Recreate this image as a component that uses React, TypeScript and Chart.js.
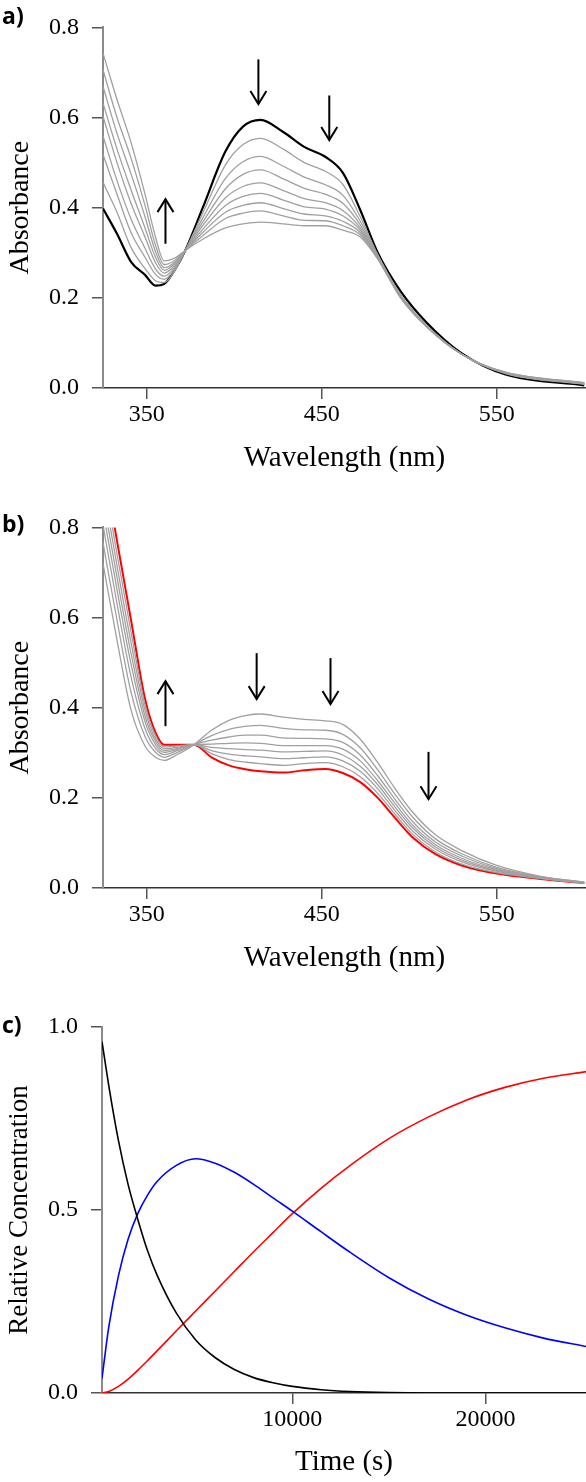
import React, { useEffect, useRef } from 'react';
import { Chart, registerables } from 'chart.js';

Chart.register(...registerables);

const SERIF = '"Liberation Serif", "Times New Roman", serif';

// ---------- Panel a ----------
const A_WAVELENGTH = [325, 333, 341, 349, 355, 360, 366, 372, 382, 395, 405, 415, 428, 440, 452, 462, 472, 482, 495, 510, 530, 555, 600];
const A_INITIAL = [0.398, 0.342, 0.28, 0.251, 0.227, 0.231, 0.262, 0.305, 0.40, 0.525, 0.58, 0.595, 0.568, 0.535, 0.513, 0.478, 0.395, 0.30, 0.215, 0.145, 0.077, 0.03, 0.006];
const A_SCAN_1 = [0.456, 0.39, 0.312, 0.265, 0.238, 0.234, 0.260, 0.305, 0.388, 0.495, 0.54, 0.554, 0.53, 0.50, 0.481, 0.452, 0.38, 0.296, 0.207, 0.139, 0.075, 0.032, 0.008];
const A_SCAN_2 = [0.518, 0.43, 0.345, 0.29, 0.252, 0.241, 0.264, 0.305, 0.377, 0.465, 0.502, 0.514, 0.492, 0.468, 0.451, 0.428, 0.37, 0.294, 0.206, 0.138, 0.075, 0.033, 0.009];
const A_SCAN_3 = [0.559, 0.46, 0.375, 0.31, 0.264, 0.248, 0.268, 0.305, 0.368, 0.442, 0.474, 0.484, 0.464, 0.443, 0.43, 0.41, 0.362, 0.292, 0.205, 0.138, 0.075, 0.033, 0.009];
const A_SCAN_4 = [0.603, 0.50, 0.41, 0.335, 0.278, 0.255, 0.272, 0.305, 0.36, 0.422, 0.447, 0.455, 0.438, 0.42, 0.411, 0.394, 0.355, 0.29, 0.204, 0.137, 0.075, 0.034, 0.01];
const A_SCAN_5 = [0.632, 0.53, 0.44, 0.355, 0.29, 0.261, 0.276, 0.305, 0.352, 0.405, 0.425, 0.432, 0.417, 0.402, 0.397, 0.382, 0.35, 0.289, 0.203, 0.137, 0.075, 0.034, 0.01];
const A_SCAN_6 = [0.669, 0.565, 0.475, 0.38, 0.303, 0.267, 0.279, 0.305, 0.345, 0.39, 0.405, 0.411, 0.398, 0.386, 0.382, 0.37, 0.345, 0.288, 0.202, 0.136, 0.075, 0.034, 0.011];
const A_SCAN_7 = [0.706, 0.60, 0.51, 0.405, 0.317, 0.274, 0.283, 0.305, 0.338, 0.376, 0.388, 0.393, 0.382, 0.372, 0.371, 0.36, 0.34, 0.287, 0.201, 0.136, 0.075, 0.035, 0.011];
const A_SCAN_8 = [0.743, 0.64, 0.545, 0.43, 0.335, 0.282, 0.288, 0.305, 0.33, 0.355, 0.364, 0.368, 0.364, 0.36, 0.36, 0.35, 0.335, 0.286, 0.2, 0.135, 0.075, 0.035, 0.012];
const A_ARROW_X = [360.7, 413.8, 454.3];
const A_ARROW_FROM = [0.32, 0.729, 0.649];
const A_ARROW_TO = [0.419, 0.63, 0.55];

// ---------- Panel b ----------
const B_WAVELENGTH = [325, 333, 341, 349, 355, 360, 367, 377, 387, 397, 407, 415, 428, 440, 452, 462, 472, 482, 492, 502, 515, 530, 550, 575, 600];
const B_SCAN_1 = [0.72, 0.55, 0.395, 0.315, 0.29, 0.283, 0.295, 0.318, 0.35, 0.372, 0.383, 0.386, 0.379, 0.374, 0.371, 0.363, 0.33, 0.278, 0.22, 0.168, 0.118, 0.083, 0.05, 0.026, 0.013];
const B_SCAN_2 = [0.766, 0.594, 0.435, 0.336, 0.301, 0.29, 0.3, 0.318, 0.338, 0.352, 0.359, 0.361, 0.354, 0.351, 0.35, 0.341, 0.311, 0.262, 0.207, 0.157, 0.109, 0.076, 0.046, 0.025, 0.013];
const B_SCAN_3 = [0.805, 0.631, 0.469, 0.354, 0.31, 0.296, 0.304, 0.318, 0.328, 0.335, 0.339, 0.339, 0.333, 0.332, 0.331, 0.323, 0.295, 0.249, 0.196, 0.147, 0.102, 0.071, 0.043, 0.024, 0.012];
const B_SCAN_4 = [0.837, 0.662, 0.497, 0.369, 0.318, 0.301, 0.307, 0.318, 0.319, 0.321, 0.322, 0.321, 0.316, 0.316, 0.316, 0.308, 0.282, 0.238, 0.187, 0.139, 0.096, 0.066, 0.041, 0.023, 0.012];
const B_SCAN_5 = [0.865, 0.689, 0.521, 0.381, 0.325, 0.305, 0.309, 0.318, 0.312, 0.309, 0.307, 0.306, 0.302, 0.303, 0.304, 0.295, 0.27, 0.229, 0.179, 0.133, 0.091, 0.062, 0.039, 0.022, 0.012];
const B_SCAN_6 = [0.893, 0.715, 0.545, 0.394, 0.331, 0.309, 0.312, 0.318, 0.305, 0.297, 0.293, 0.291, 0.287, 0.289, 0.291, 0.282, 0.259, 0.22, 0.171, 0.126, 0.086, 0.058, 0.037, 0.022, 0.011];
const B_SCAN_7 = [0.92, 0.741, 0.569, 0.406, 0.338, 0.313, 0.315, 0.318, 0.298, 0.285, 0.279, 0.276, 0.272, 0.276, 0.278, 0.269, 0.247, 0.21, 0.163, 0.119, 0.08, 0.053, 0.034, 0.021, 0.011];
const B_FINAL = [0.95, 0.77, 0.595, 0.42, 0.345, 0.318, 0.318, 0.318, 0.29, 0.272, 0.263, 0.259, 0.256, 0.261, 0.264, 0.255, 0.235, 0.2, 0.155, 0.112, 0.075, 0.05, 0.032, 0.02, 0.011];
const B_ARROW_X = [360.7, 412.8, 455, 511];
const B_ARROW_FROM = [0.359, 0.521, 0.51, 0.302];
const B_ARROW_TO = [0.459, 0.419, 0.408, 0.197];

// ---------- shared spectra axes ----------
const W_TICKS = [350, 450, 550];
const W_LABELS = ['350', '450', '550'];
const ABS_TICKS = [0, 0.2, 0.4, 0.6, 0.8];
const ABS_LABELS = ['0.0', '0.2', '0.4', '0.6', '0.8'];

// ---------- Panel c ----------
const C_TIME = [150, 500, 1000, 1500, 2000, 2500, 3000, 4000, 5000, 6000, 7000, 8000, 9000, 10000, 11500, 13000, 15000, 17000, 19000, 21000, 23000, 25200];
const C_REACTANT = [0.96, 0.84, 0.69, 0.57, 0.475, 0.39, 0.322, 0.218, 0.145, 0.097, 0.064, 0.042, 0.028, 0.018, 0.009, 0.004, 0.001, 0, 0, 0, 0, 0];
const C_INTERMEDIATE = [0.04, 0.18, 0.32, 0.42, 0.49, 0.54, 0.578, 0.622, 0.64, 0.628, 0.603, 0.57, 0.533, 0.497, 0.44, 0.384, 0.315, 0.258, 0.213, 0.178, 0.15, 0.127];
const C_PRODUCT = [0, 0.004, 0.018, 0.038, 0.062, 0.088, 0.115, 0.17, 0.224, 0.278, 0.332, 0.386, 0.438, 0.49, 0.56, 0.622, 0.695, 0.753, 0.8, 0.835, 0.86, 0.878];
const T_TICKS = [10000, 20000];
const T_LABELS = ['10000', '20000'];
const CONC_TICKS = [0, 0.5, 1.0];
const CONC_LABELS = ['0.0', '0.5', '1.0'];

const GRAY = '#a0a0a0';

const arrowPlugin = {
  id: 'arrows',
  afterDatasetsDraw(chart: any, _args: any, opts: any) {
    if (!opts || !opts.x) return;
    const { ctx } = chart;
    const xs = chart.scales.x;
    const ys = chart.scales.y;
    ctx.save();
    ctx.strokeStyle = '#000';
    ctx.lineWidth = 2;
    for (let i = 0; i < opts.x.length; i++) {
      const px = xs.getPixelForValue(opts.x[i]);
      const y0 = ys.getPixelForValue(opts.from[i]);
      const y1 = ys.getPixelForValue(opts.to[i]);
      const dir = y1 > y0 ? 1 : -1;
      ctx.beginPath();
      ctx.moveTo(px, y0);
      ctx.lineTo(px, y1);
      ctx.stroke();
      ctx.beginPath();
      ctx.moveTo(px - 8, y1 - dir * 13);
      ctx.lineTo(px, y1);
      ctx.lineTo(px + 8, y1 - dir * 13);
      ctx.stroke();
    }
    ctx.restore();
  },
};

function line(xs: number[], ys: number[], color: string, width: number) {
  return {
    data: xs.map((x, i) => ({ x, y: ys[i] })),
    borderColor: color,
    borderWidth: width,
    pointRadius: 0,
    fill: false,
    cubicInterpolationMode: 'monotone',
  };
}

interface AxisSpec {
  min: number;
  max: number;
  ticks: number[];
  labels: string[];
  title: string;
}

function buildConfig(
  datasets: any[],
  xa: AxisSpec,
  ya: AxisSpec,
  padTop: number,
  xHeight: number,
  yWidth: number,
  xTitleBottom: number,
  yTitleSize: number,
  arrows: any,
) {
  const tickFont = { family: SERIF, size: 24 };
  return {
    type: 'line',
    data: { datasets },
    plugins: [arrowPlugin],
    options: {
      animation: false,
      responsive: false,
      maintainAspectRatio: false,
      devicePixelRatio: 1,
      events: [],
      layout: { padding: { top: padTop, left: 0, right: 0, bottom: 0 } },
      plugins: {
        legend: { display: false },
        tooltip: { enabled: false },
        arrows,
      },
      scales: {
        x: {
          type: 'linear',
          min: xa.min,
          max: xa.max,
          afterBuildTicks: (s: any) => {
            s.ticks = xa.ticks.map((v) => ({ value: v }));
          },
          afterFit: (s: any) => {
            s.height = xHeight;
          },
          ticks: {
            callback: (_v: any, i: number) => xa.labels[i],
            font: tickFont,
            color: '#000',
            padding: 1,
            autoSkip: false,
            maxRotation: 0,
          },
          grid: { drawOnChartArea: false, drawTicks: true, tickLength: 11, color: '#555', lineWidth: 1.5 },
          border: { display: true, color: '#333', width: 1.5 },
          title: {
            display: true,
            text: xa.title,
            font: { family: SERIF, size: 29 },
            color: '#000',
            padding: { top: 0, bottom: xTitleBottom },
          },
        },
        y: {
          type: 'linear',
          min: ya.min,
          max: ya.max,
          afterBuildTicks: (s: any) => {
            s.ticks = ya.ticks.map((v) => ({ value: v }));
          },
          afterFit: (s: any) => {
            s.width = yWidth;
          },
          ticks: {
            callback: (_v: any, i: number) => ya.labels[i],
            font: tickFont,
            color: '#000',
            padding: 13,
            autoSkip: false,
          },
          grid: { drawOnChartArea: false, drawTicks: true, tickLength: 11, color: '#555', lineWidth: 1.5 },
          border: { display: true, color: '#8a8a8a', width: 2 },
          title: {
            display: true,
            text: ya.title,
            font: { family: SERIF, size: yTitleSize },
            color: '#000',
            padding: { top: 4, bottom: 0 },
          },
        },
      },
    },
  };
}

const wAxis: AxisSpec = { min: 325, max: 601, ticks: W_TICKS, labels: W_LABELS, title: 'Wavelength (nm)' };
const absAxis: AxisSpec = { min: 0, max: 0.8, ticks: ABS_TICKS, labels: ABS_LABELS, title: 'Absorbance' };

function configA() {
  const scans = [A_SCAN_1, A_SCAN_2, A_SCAN_3, A_SCAN_4, A_SCAN_5, A_SCAN_6, A_SCAN_7, A_SCAN_8];
  const ds = scans.map((s) => line(A_WAVELENGTH, s, GRAY, 1.3));
  ds.push(line(A_WAVELENGTH, A_INITIAL, '#000', 2.2));
  return buildConfig(ds, wAxis, absAxis, 23, 92, 103, 4, 28, { x: A_ARROW_X, from: A_ARROW_FROM, to: A_ARROW_TO });
}

function configB() {
  const scans = [B_SCAN_1, B_SCAN_2, B_SCAN_3, B_SCAN_4, B_SCAN_5, B_SCAN_6, B_SCAN_7];
  const ds = scans.map((s) => line(B_WAVELENGTH, s, GRAY, 1.3));
  ds.push(line(B_WAVELENGTH, B_FINAL, '#ff0000', 2));
  return buildConfig(ds, wAxis, absAxis, 23, 92, 103, 4, 28, { x: B_ARROW_X, from: B_ARROW_FROM, to: B_ARROW_TO });
}

function configC() {
  const ds = [
    line(C_TIME, C_REACTANT, '#000', 1.6),
    line(C_TIME, C_INTERMEDIATE, '#0000ff', 1.6),
    line(C_TIME, C_PRODUCT, '#ff0000', 1.6),
  ];
  const tAxis: AxisSpec = { min: 150, max: 25200, ticks: T_TICKS, labels: T_LABELS, title: 'Time (s)' };
  const cAxis: AxisSpec = { min: 0, max: 1, ticks: CONC_TICKS, labels: CONC_LABELS, title: 'Relative Concentration' };
  return buildConfig(ds, tAxis, cAxis, 47, 89, 102, 2, 27, null);
}

function Panel({ top, height, build }: { top: number; height: number; build: () => any }) {
  const ref = useRef<HTMLCanvasElement>(null);
  useEffect(() => {
    const chart = new Chart(ref.current as HTMLCanvasElement, build());
    return () => chart.destroy();
  }, []);
  return (
    <canvas
      ref={ref}
      width={586}
      height={height}
      style={{ position: 'absolute', left: 0, top, width: 586, height, display: 'block' }}
    />
  );
}

const labelStyle: React.CSSProperties = {
  position: 'absolute',
  left: 2,
  fontFamily: '"Open Sans", "Noto Sans", sans-serif',
  fontWeight: 700,
  fontSize: 23,
  lineHeight: '23px',
  color: '#000',
};

export default function App() {
  return (
    <div style={{ position: 'absolute', left: 0, top: 0, width: 586, height: 1482, background: '#fff', overflow: 'hidden' }}>
      <Panel top={0} height={480} build={configA} />
      <Panel top={500} height={480} build={configB} />
      <Panel top={980} height={502} build={configC} />
      <span style={{ ...labelStyle, top: 4 }}>a)</span>
      <span style={{ ...labelStyle, top: 512 }}>b)</span>
      <span style={{ ...labelStyle, top: 1013 }}>c)</span>
    </div>
  );
}
